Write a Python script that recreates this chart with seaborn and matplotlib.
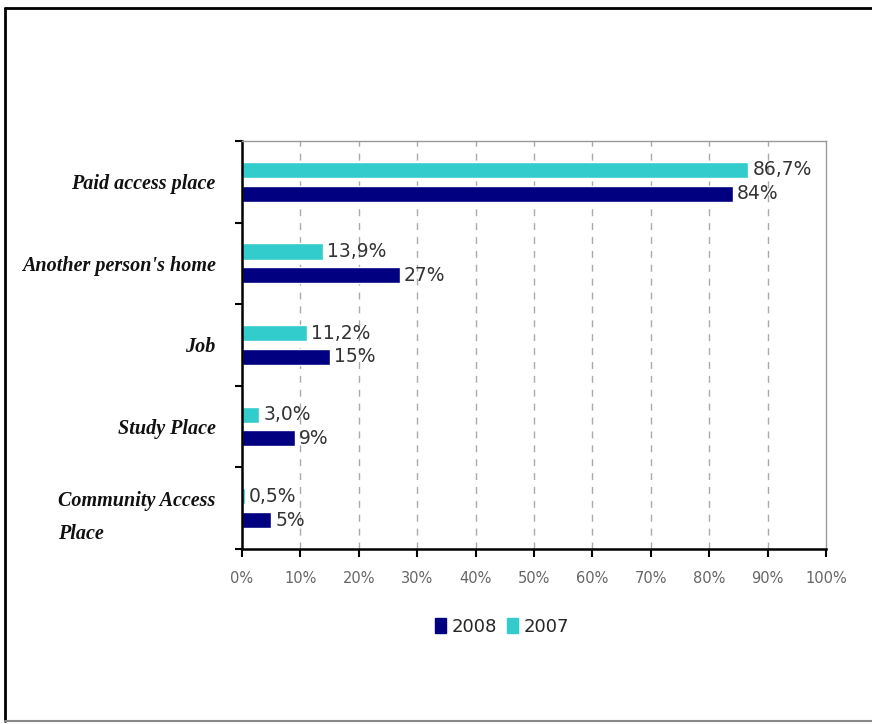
import numpy as np
import pandas as pd
import matplotlib.pyplot as plt
import seaborn as sns
from matplotlib.lines import Line2D
from matplotlib.patches import Patch

# values
places = ['Paid access place', "Another person's home", 'Job', 'Study Place', 'Community Access\nPlace']
vals_2007 = [86.7, 13.9, 11.2, 3.0, 0.5]
vals_2008 = [84, 27, 15, 9, 5]
lbl_2007 = ['86,7%', '13,9%', '11,2%', '3,0%', '0,5%']
lbl_2008 = ['84%', '27%', '15%', '9%', '5%']
xticks = [0, 10, 20, 30, 40, 50, 60, 70, 80, 90, 100]

c2007 = '#33cccc'
c2008 = '#000080'

df = pd.DataFrame({
    'place': places * 2,
    'value': vals_2007 + vals_2008,
    'year': ['2007'] * 5 + ['2008'] * 5,
})

sns.set_style('white')
fig = plt.figure(figsize=(8.72, 7.24), dpi=100)
ax = fig.add_axes([0.2775, 0.2417, 0.6697, 0.5636])

sns.barplot(data=df, y='place', x='value', hue='year', hue_order=['2007', '2008'],
            palette=[c2007, c2008], orient='h', width=0.58, gap=0.32,
            order=places, ax=ax, legend=False, saturation=1)

# value labels
for i, (a, b) in enumerate(zip(vals_2007, vals_2008)):
    ax.text(a + 0.7, i - 0.145, lbl_2007[i], va='center', ha='left', fontsize=13.5, color='#333333')
    ax.text(b + 0.7, i + 0.145, lbl_2008[i], va='center', ha='left', fontsize=13.5, color='#333333')

ax.set_xlim(0, 100)
ax.set_ylim(4.5, -0.5)
ax.set_xticks(xticks)
ax.set_xticklabels([f'{t}%' for t in xticks], fontsize=10.5, color='#666666')
ax.tick_params(axis='x', bottom=True, length=6, width=1.5, color='black', pad=10)
for t in xticks[1:-1]:
    ax.axvline(t, color='#aaaaaa', lw=1, ls=(0, (5, 5)), zorder=0)

ax.set_yticks(range(len(places)))
ax.set_yticklabels(places, fontsize=14.5, fontweight='bold', fontstyle='italic',
                   family='Liberation Serif', color='#111111')
for lab in ax.get_yticklabels():
    lab.set_multialignment('left')
    lab.set_linespacing(1.9)
ax.tick_params(axis='y', length=0, pad=19)
ax.set_yticks(np.arange(-0.5, len(places), 1), minor=True)
ax.tick_params(axis='y', which='minor', left=True, length=5, width=1.5, color='black')

ax.set_xlabel('')
ax.set_ylabel('')
for s in ['left', 'bottom']:
    ax.spines[s].set_color('black')
    ax.spines[s].set_linewidth(1.8)
for s in ['top', 'right']:
    ax.spines[s].set_color('#999999')
    ax.spines[s].set_linewidth(1)

handles = [Patch(color=c2008, label='2008'), Patch(color=c2007, label='2007')]
fig.legend(handles=handles, loc='center', bbox_to_anchor=(502 / 872, 1 - 627 / 724), ncol=2,
           frameon=False, fontsize=13, handlelength=0.6, handleheight=0.9,
           handletextpad=0.3, columnspacing=0.6)

# outer frame
fig.add_artist(Line2D([5 / 872, 5 / 872], [1 - 8 / 724, 1 - 721 / 724], color='black', lw=2, transform=fig.transFigure))
fig.add_artist(Line2D([5 / 872, 1], [1 - 8 / 724, 1 - 8 / 724], color='black', lw=2, transform=fig.transFigure))
fig.add_artist(Line2D([5 / 872, 1], [1 - 721 / 724, 1 - 721 / 724], color='#888888', lw=1.5, transform=fig.transFigure))

fig.savefig('out.png', dpi=100)
